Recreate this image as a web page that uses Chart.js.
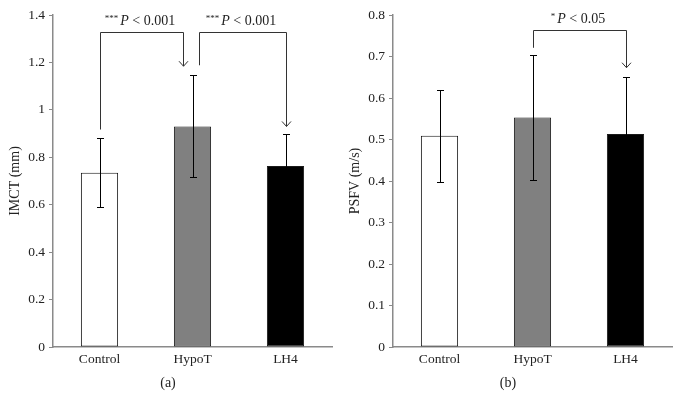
<!DOCTYPE html>
<html lang="en">
<head>
<meta charset="UTF-8">
<title>IMCT and PSFV</title>
<style>
  body { margin: 0; background: #fff; }
  .janela { position: relative; width: 680px; height: 397px; }
  .painel { position: absolute; top: 0; width: 340px; height: 397px; }
</style>
<script src="https://cdn.jsdelivr.net/npm/chart.js"></script>
</head>
<body>
<div class="janela">
  <div class="painel" style="left:0"><canvas id="grafA" width="340" height="397"></canvas></div>
  <div class="painel" style="left:340px"><canvas id="grafB" width="340" height="397"></canvas></div>
</div>
<script>
// categorias e valores
const grupos = ['Control', 'HypoT', 'LH4'];
const coresBarras = ['#ffffff', '#808080', '#000000'];

// (a) IMCT (mm)
const imctMedia = [0.735, 0.93, 0.763];
const imctDP = [0.145, 0.215, 0.137];
const imctTicks = [0, 0.2, 0.4, 0.6, 0.8, 1, 1.2, 1.4];

// (b) PSFV (m/s)
const psfvMedia = [0.509, 0.553, 0.513];
const psfvDP = [0.111, 0.15, 0.138];
const psfvTicks = [0, 0.1, 0.2, 0.3, 0.4, 0.5, 0.6, 0.7, 0.8];

// colchetes de significancia: de -> para, altura de saida, topo, ponta da seta (em unidades do eixo y)
const colchetesA = [
  { de: 0, para: 1, dxDe: 0, dxPara: -10, yDe: 0.917, yTopo: 1.33, ySeta: 1.184, estrelas: '***', texto: ' < 0.001' },
  { de: 1, para: 2, dxDe: 6, dxPara: 0, yDe: 1.188, yTopo: 1.33, ySeta: 0.93, estrelas: '***', texto: ' < 0.001' }
];
const colchetesB = [
  { de: 1, para: 2, dxDe: 0, dxPara: 0, yDe: 0.721, yTopo: 0.765, ySeta: 0.673, estrelas: '*', texto: ' < 0.05' }
];

const fonte = '"Liberation Serif", "DejaVu Serif", serif';
const corEixo = '#8a8a8a';
const corLinha = '#000000';

const pluginExtras = {
  id: 'extras',
  afterDatasetsDraw(chart, args, opts) {
    const ctx = chart.ctx;
    const meta = chart.getDatasetMeta(0);
    const y = chart.scales.y;

    // barras de erro
    ctx.save();
    ctx.strokeStyle = corLinha;
    ctx.lineWidth = 1;
    for (let i = 0; i < opts.media.length; i++) {
      const x = Math.round(meta.data[i].x) + 0.5;
      const yTop = Math.round(y.getPixelForValue(opts.media[i] + opts.dp[i])) + 0.5;
      const yBot = Math.round(y.getPixelForValue(opts.media[i] - opts.dp[i])) + 0.5;
      ctx.beginPath();
      ctx.moveTo(x, yTop); ctx.lineTo(x, yBot);
      ctx.moveTo(x - 3.5, yTop); ctx.lineTo(x + 3.5, yTop);
      ctx.moveTo(x - 3.5, yBot); ctx.lineTo(x + 3.5, yBot);
      ctx.stroke();
    }

    // colchetes com setas
    ctx.strokeStyle = '#333';
    opts.colchetes.forEach(function (c) {
      const x1 = Math.round(meta.data[c.de].x + c.dxDe) + 0.5;
      const x2 = Math.round(meta.data[c.para].x + c.dxPara) + 0.5;
      const yA = y.getPixelForValue(c.yDe);
      const yT = Math.round(y.getPixelForValue(c.yTopo)) + 0.5;
      const yS = y.getPixelForValue(c.ySeta);
      ctx.beginPath();
      ctx.moveTo(x1, yA); ctx.lineTo(x1, yT); ctx.lineTo(x2, yT); ctx.lineTo(x2, yS);
      ctx.moveTo(x2 - 4.5, yS - 5); ctx.lineTo(x2, yS); ctx.lineTo(x2 + 4.5, yS - 5);
      ctx.stroke();

      // texto: estrelas sobrescritas + P italico + resto
      const fEstrela = '9px ' + fonte;
      const fP = 'italic 14px ' + fonte;
      const fTxt = '14px ' + fonte;
      ctx.font = fEstrela; const w1 = ctx.measureText(c.estrelas).width;
      ctx.font = fP; const w2 = ctx.measureText('P').width;
      ctx.font = fTxt; const w3 = ctx.measureText(c.texto).width;
      let tx = (x1 + x2) / 2 - (w1 + w2 + w3) / 2 - 3;
      const ty = yT - 11;
      ctx.fillStyle = '#222';
      ctx.textBaseline = 'middle';
      ctx.textAlign = 'left';
      ctx.font = fEstrela; ctx.fillText(c.estrelas, tx, ty - 3); tx += w1 + 2;
      ctx.font = fP; ctx.fillText('P', tx, ty); tx += w2;
      ctx.font = fTxt; ctx.fillText(c.texto, tx, ty);
    });

    // rotulo do painel
    ctx.font = '14px ' + fonte;
    ctx.fillStyle = '#222';
    ctx.textAlign = 'center';
    ctx.textBaseline = 'middle';
    ctx.fillText(opts.painel, 168, 383);
    ctx.restore();
  }
};

function montarGrafico(id, media, dp, ticks, maximo, tituloY, colchetes, painel) {
  const config = {
    type: 'bar',
    data: {
      labels: grupos,
      datasets: [{
        data: media,
        backgroundColor: coresBarras,
        borderColor: '#1a1a1a',
        borderWidth: 1,
        borderSkipped: false,
        categoryPercentage: 1,
        barPercentage: 0.4
      }]
    },
    options: {
      responsive: false,
      animation: false,
      layout: { padding: { left: 0, right: 8, top: 15, bottom: 0 } },
      plugins: {
        legend: { display: false },
        tooltip: { enabled: false },
        extras: { media: media, dp: dp, colchetes: colchetes, painel: painel }
      },
      scales: {
        x: {
          afterFit(scale) { scale.height = 50; },
          grid: { display: false, drawTicks: false },
          border: { display: true, color: corEixo, width: 1.5 },
          ticks: { padding: 4, color: '#222', font: { family: fonte, size: 13.5 } }
        },
        y: {
          min: 0,
          max: maximo,
          afterFit(scale) { scale.width = 53; },
          afterBuildTicks(scale) { scale.ticks = ticks.map(v => ({ value: v })); },
          grid: { drawOnChartArea: false, drawTicks: true, tickLength: 4, color: corEixo },
          border: { display: true, color: corEixo, width: 1.5 },
          ticks: {
            padding: 4,
            color: '#222',
            font: { family: fonte, size: 13.5 },
            callback: v => String(v)
          },
          title: {
            display: true,
            text: tituloY,
            color: '#222',
            padding: { top: 7, bottom: 0 },
            font: { family: fonte, size: 14 }
          }
        }
      }
    },
    plugins: [pluginExtras]
  };
  return new Chart(document.getElementById(id), config);
}

montarGrafico('grafA', imctMedia, imctDP, imctTicks, 1.4, 'IMCT (mm)', colchetesA, '(a)');
montarGrafico('grafB', psfvMedia, psfvDP, psfvTicks, 0.8, 'PSFV (m/s)', colchetesB, '(b)');
</script>
</body>
</html>
